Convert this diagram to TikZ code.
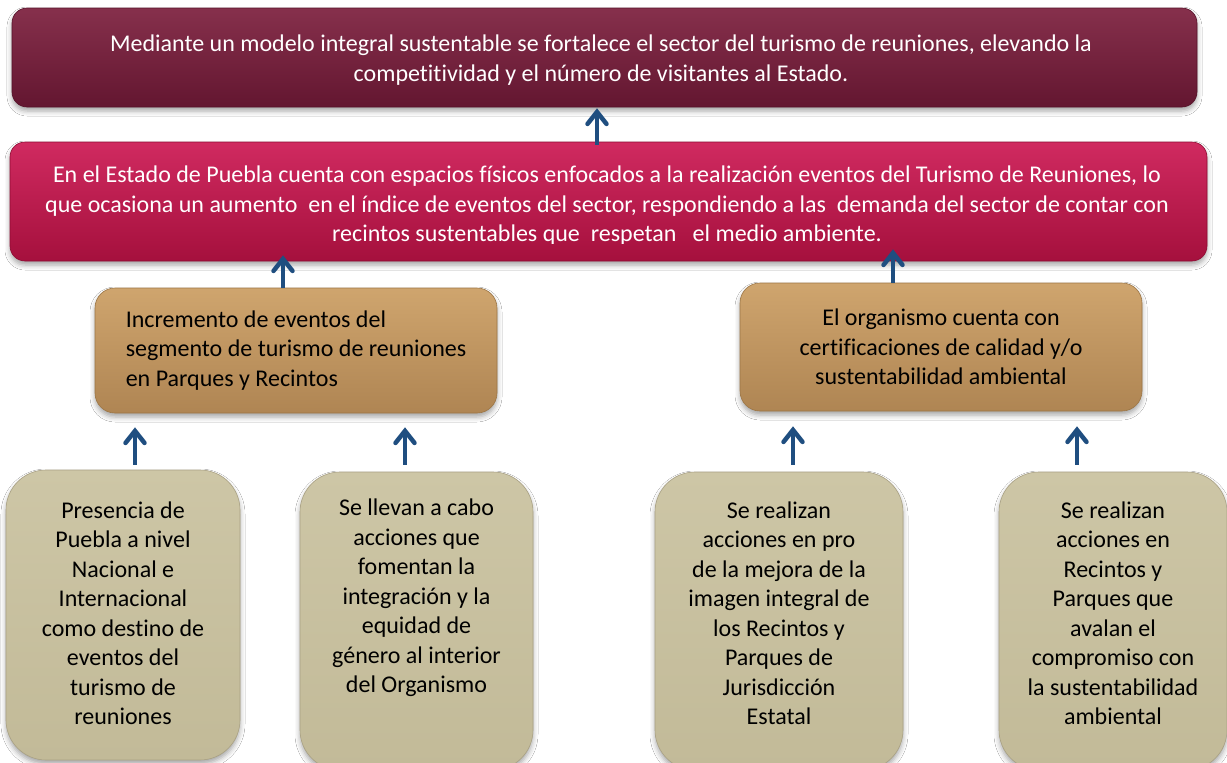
\documentclass[tikz,border=0pt]{standalone}
\usepackage{fontspec}
\setmainfont{Carlito}[Ligatures=NoCommon]
\usetikzlibrary{arrows.meta,shadows.blur}
\definecolor{maroonTop}{HTML}{86304C}
\definecolor{maroonBot}{HTML}{631630}
\definecolor{maroonLine}{HTML}{551229}
\definecolor{crimTop}{HTML}{D02A60}
\definecolor{crimBot}{HTML}{A5103D}
\definecolor{crimLine}{HTML}{8E0C33}
\definecolor{tanTop}{HTML}{CFA56E}
\definecolor{tanBot}{HTML}{AF8553}
\definecolor{tanLine}{HTML}{9C7646}
\definecolor{beigeTop}{HTML}{CDC6A6}
\definecolor{beigeBot}{HTML}{C2BA98}
\definecolor{beigeLine}{HTML}{A9A184}
\definecolor{arrowBlue}{HTML}{1F4E80}
\begin{document}
\begin{tikzpicture}[x=1pt,y=-1pt,
  boxbase/.style={inner sep=0pt, font=\fontsize{24}{29.5}\selectfont,
    blur shadow={shadow xshift=0pt, shadow yshift=-4pt, shadow blur radius=5pt, shadow opacity=35}},
  txt/.style={inner sep=0pt, font=\fontsize{24}{29.5}\selectfont},
  topbox/.style={boxbase, rounded corners=15pt, top color=maroonTop, bottom color=maroonBot, draw=maroonLine, line width=0.6pt},
  midbox/.style={boxbase, rounded corners=15pt, top color=crimTop, bottom color=crimBot, draw=crimLine, line width=0.6pt},
  tanbox/.style={boxbase, rounded corners=20pt, top color=tanTop, bottom color=tanBot, draw=tanLine, line width=0.6pt, text=black},
  basebox/.style={boxbase, rounded corners=40pt, top color=beigeTop, bottom color=beigeBot, draw=beigeLine, line width=0.6pt},
  basetxt/.style={txt, text=black, align=center},
  arr/.style={draw=arrowBlue, line width=4.5pt, -{Straight Barb[length=12pt,width=19pt,line cap=round]}}
]
\fill[white] (0,0) rectangle (1227,763);
\useasboundingbox (0,0) rectangle (1227,763);

\node[topbox, minimum width=1185pt, minimum height=99pt] (b1) at (604.5,57.5) {};
\node[txt, text=white, align=center] (b1t) at (601,60)
  {Mediante un modelo integral sustentable se fortalece el sector del turismo de reuniones, elevando la\\
   competitividad y el número de visitantes al Estado.};

\node[midbox, minimum width=1197pt, minimum height=119pt] (b2) at (608.5,201.5) {};
\begin{scope}
\clip (10,142) rectangle (1207,243.5);
\node[txt, text=white, align=center] (b2t) at (607,206)
  {En el Estado de Puebla cuenta con espacios físicos enfocados a la realización eventos del Turismo de Reuniones, lo\\
   que ocasiona un aumento\ \ en el índice de eventos del sector, respondiendo a las\ \ demanda del sector de contar con\\
   recintos sustentables que\ \ respetan\ \ \ el medio ambiente.};
\end{scope}

\node[tanbox, minimum width=402pt, minimum height=125pt, align=left] (c1) at (296,350.5)
  {Incremento de eventos del\\ segmento de turismo de reuniones\\ en Parques y Recintos};

\node[tanbox, minimum width=402pt, minimum height=128pt, align=center] (c2) at (941,347)
  {El organismo cuenta con\\ certificaciones de calidad y/o\\ sustentabilidad ambiental};

\node[basebox, minimum width=234pt, minimum height=290pt] (d1) at (123,615) {};
\node[basetxt] (d1t) at (123,613)
  {Presencia de\\ Puebla a nivel\\ Nacional e\\ Internacional\\ como destino de\\ eventos del\\ turismo de\\ reuniones};

\node[basebox, minimum width=233pt, minimum height=298pt] (d2) at (416.5,621) {};
\node[basetxt] (d2t) at (416.5,598)
  {Se llevan a cabo\\ acciones que\\ fomentan la\\ integración y la\\ equidad de\\ género al interior\\ del Organismo};

\node[basebox, minimum width=248pt, minimum height=298pt] (d3) at (779,621) {};
\node[basetxt] (d3t) at (779,613)
  {Se realizan\\ acciones en pro\\ de la mejora de la\\ imagen integral de\\ los Recintos y\\ Parques de\\ Jurisdicción\\ Estatal};

\node[basebox, minimum width=228pt, minimum height=298pt] (d4) at (1113,621) {};
\node[basetxt] (d4t) at (1113,613)
  {Se realizan\\ acciones en\\ Recintos y\\ Parques que\\ avalan el\\ compromiso con\\ la sustentabilidad\\ ambiental};

% connectors
\draw[arr] ([xshift=-11.5pt,yshift=-3pt]b2.north) -- ([xshift=-7.5pt,yshift=-1pt]b1.south);
\draw[arr, shorten >=-6pt] ([xshift=-13pt]c1.north) -- ([xshift=-13pt]c1.north |- b2.south);
\draw[arr, shorten >=-12pt] ([xshift=-48pt]c2.north) -- ([xshift=-48pt]c2.north |- b2.south);
\draw[arr, shorten <=5pt, shorten >=14pt] ([xshift=12pt]d1.north) -- ([xshift=12pt]d1.north |- c1.south);
\draw[arr, shorten <=7pt, shorten >=14pt] ([xshift=-11.5pt]d2.north) -- ([xshift=-11.5pt]d2.north |- c1.south);
\draw[arr, shorten <=7pt, shorten >=15pt] ([xshift=14pt]d3.north) -- ([xshift=14pt]d3.north |- c2.south);
\draw[arr, shorten <=7pt, shorten >=15pt] ([xshift=-36pt]d4.north) -- ([xshift=-36pt]d4.north |- c2.south);
\end{tikzpicture}
\end{document}
